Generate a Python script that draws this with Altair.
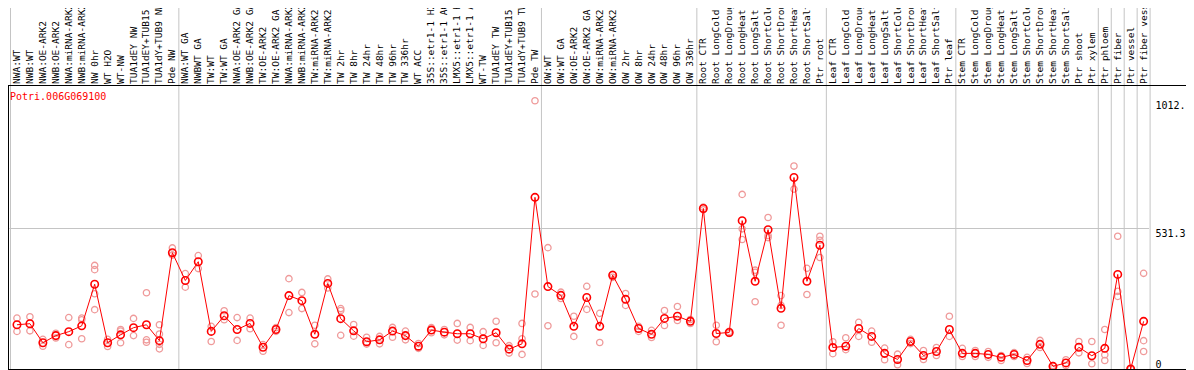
import altair as alt
import pandas as pd

gene_id = "Potri.006G069100"

categories = [
    "NWA:WT", "NWB:WT", "NWA:OE-ARK2", "NWB:OE-ARK2", "NWA:miRNA-ARK2", "NWB:miRNA-ARK2",
    "NW 0hr", "WT H2O", "WT-NW", "TUA1dEY NW", "TUA1dEY+TUB15 NW", "TUA1dY+TUB9 NW", "Pde NW",
    "NWA:WT GA", "NWBWT GA", "TW:WT", "TW:WT GA", "NWA:OE-ARK2 GA", "NWB:OE-ARK2 GA",
    "TW:OE-ARK2", "TW:OE-ARK2 GA", "NWA:miRNA-ARK2 GA", "NWB:miRNA-ARK2 GA", "TW:miRNA-ARK2",
    "TW:miRNA-ARK2 GA", "TW 2hr", "TW 8hr", "TW 24hr", "TW 48hr", "TW 96hr", "TW 336hr",
    "WT ACC", "35S::etr1-1 H2O", "35S::etr1-1 ACC", "LMX5::etr1-1 H2O", "LMX5::etr1-1 ACC",
    "WT-TW", "TUA1dEY TW", "TUA1dEY+TUB15 TW", "TUA1dY+TUB9 TW", "Pde TW",
    "OW:WT", "OW:WT GA", "OW:OE-ARK2", "OW:OE-ARK2 GA", "OW:miRNA-ARK2", "OW:miRNA-ARK2 GA",
    "OW 2hr", "OW 8hr", "OW 24hr", "OW 48hr", "OW 96hr", "OW 336hr",
    "Root CTR", "Root LongCold", "Root LongDrought", "Root LongHeat", "Root LongSalt",
    "Root ShortCold", "Root ShortDrought", "Root ShortHeat", "Root ShortSalt", "Ptr root",
    "Leaf CTR", "Leaf LongCold", "Leaf LongDrought", "Leaf LongHeat", "Leaf LongSalt",
    "Leaf ShortCold", "Leaf ShortDrought", "Leaf ShortHeat", "Leaf ShortSalt", "Ptr leaf",
    "Stem CTR", "Stem LongCold", "Stem LongDrought", "Stem LongHeat", "Stem LongSalt",
    "Stem ShortCold", "Stem ShortDrought", "Stem ShortHeat", "Stem ShortSalt", "Ptr shoot",
    "Ptr xylem", "Ptr phloem", "Ptr fiber", "Ptr vessel", "Ptr fiber vessel",
]

means = [
    167, 171, 99, 126, 141, 163, 320, 99, 129, 156, 167, 107, 439,
    334, 405, 142, 201, 149, 172, 82, 149, 277, 258, 131, 323, 190, 144, 103,
    110, 143, 126, 86, 147, 139, 133, 133, 114, 137, 75, 95, 648,
    311, 278, 161, 270, 161, 354, 263, 153, 131, 191, 199, 180,
    606, 134, 138, 560, 331, 526, 229, 723, 331, 467,
    81, 86, 153, 123, 59, 36, 104, 51, 66, 149,
    59, 59, 55, 44, 55, 32, 93, 10, 23, 82, 50,
    78, 357, 0, 180,
]

replicates = [
    [192, 142], [197, 144], [112, 86], [135, 117], [194, 92], [192, 186, 114],
    [391, 375, 284, 224], [112, 85], [149, 143, 99], [191, 126], [288, 110, 101],
    [167, 132, 93, 76], [457, 430],
    [360, 309], [428, 379], [161, 104], [220, 186], [194, 108], [192, 152], [92, 67],
    [156, 142], [341, 213], [289, 228], [165, 95], [340, 306], [228, 221, 127],
    [168, 124], [120, 94], [123, 95], [157, 120], [143, 110], [96, 78], [156, 137],
    [149, 129], [172, 109], [157, 107], [141, 89], [180, 99], [88, 60], [172, 114, 55],
    [1012.6, 283],
    [458, 163], [290, 266], [199, 123], [312, 225], [210, 100], [357, 346], [285, 240],
    [161, 142], [146, 119], [221, 164], [236, 183], [187, 172],
    [611, 601], [165, 103], [142, 134], [659, 529, 489], [373, 365, 254], [572, 504, 496],
    [277, 240, 165], [766, 679], [380, 281], [501, 486, 421],
    [103, 58], [118, 73], [176, 123], [143, 101], [79, 35], [56, 16], [112, 96], [70, 36],
    [81, 51], [199, 123],
    [78, 47], [70, 47], [66, 44], [51, 32], [62, 47], [44, 21], [108, 81], [13, 2],
    [35, 13], [104, 61], [104, 20],
    [149, 54, 32], [501, 293, 274], [0, 0], [361, 107, 66],
]

group_starts = ["NWA:WT", "NWA:WT GA", "OW:WT", "Root CTR", "Leaf CTR", "Stem CTR",
                "Ptr phloem", "Ptr fiber", "Ptr vessel", "Ptr fiber vessel"]
group_end = ["Ptr fiber vessel"]

y_tick_values = [0, 531.3, 1012.6]
y_tick_labels = ["0", "531.3", "1012."]
y_max = 1072

FONT = "DejaVu Sans Mono"
TOP = 77
STEP = 12.95
X0 = 2.5
BAND_END = X0 + STEP * len(categories)
W, H = 1143, 284
FULL_W = 1178

mean_df = pd.DataFrame({"cat": categories, "value": means, "idx": list(range(len(categories)))})
rep_df = pd.DataFrame(
    [{"cat": c, "value": v} for c, reps in zip(categories, replicates) for v in reps]
)
start_df = pd.DataFrame({"cat": group_starts})
end_df = pd.DataFrame({"cat": group_end})
one = pd.DataFrame({"a": [0]})

label_expr = " : ".join(
    f"datum.value == {v} ? '{t}'" for v, t in zip(y_tick_values[:-1], y_tick_labels[:-1])
) + f" : '{y_tick_labels[-1]}'"

x_scale = alt.Scale(domain=categories, range=[X0, BAND_END],
                    paddingInner=0, paddingOuter=0)
x_axis = alt.Axis(orient="top", title=None, labelAngle=270, labelAlign="left",
                  labelBaseline="middle", labelPadding=1.5, ticks=False, domain=False,
                  grid=False, labelOverlap=False, labelFont=FONT, labelFontSize=9.5,
                  labelColor="black")
y_scale = alt.Scale(domain=[0, y_max], nice=False, zero=True)
y_axis = alt.Axis(orient="right", title=None, values=y_tick_values, labelExpr=label_expr,
                  ticks=False, domain=False, grid=True, gridColor="#c4c4c4",
                  gridOpacity={"condition": {"test": "datum.value == 531.3", "value": 1}, "value": 0},
                  labelBaseline={"condition": {"test": "datum.value == 0", "value": "bottom"}, "value": "top"},
                  labelAlign="left", labelPadding=4, labelFont=FONT, labelFontSize=10,
                  labelColor="black")


def X(**kw):
    return alt.X("cat:N", scale=x_scale, axis=x_axis, sort=categories, **kw)


def Y():
    return alt.Y("value:Q", scale=y_scale, axis=y_axis)


grid_start = alt.Chart(start_df).mark_rule(color="#c4c4c4", strokeWidth=1).encode(
    x=X(bandPosition=0), y=alt.value(-TOP), y2=alt.value(H)
)
grid_end = alt.Chart(end_df).mark_rule(color="#c4c4c4", strokeWidth=1).encode(
    x=X(bandPosition=1), y=alt.value(-TOP), y2=alt.value(H)
)

reps = alt.Chart(rep_df).mark_point(shape="circle", filled=False, size=40,
                                    color="#ef9a9a", strokeWidth=1.3, opacity=1).encode(
    x=X(), y=Y()
)
line = alt.Chart(mean_df).mark_line(color="#ff0000", strokeWidth=1).encode(
    x=X(), y=Y(), order=alt.Order("idx:Q")
)
pts = alt.Chart(mean_df).mark_point(shape="circle", filled=False, size=55,
                                    color="#ff0000", strokeWidth=1.6, opacity=1).encode(
    x=X(), y=Y()
)

frame_top = alt.Chart(one).mark_rule(color="black", strokeWidth=1).encode(
    x=alt.value(0), x2=alt.value(FULL_W), y=alt.value(0.5)
)
frame_bottom = alt.Chart(one).mark_rule(color="black", strokeWidth=1).encode(
    x=alt.value(0), x2=alt.value(FULL_W), y=alt.value(H + 0.5)
)
frame_left = alt.Chart(one).mark_rule(color="black", strokeWidth=1).encode(
    x=alt.value(0.5), y=alt.value(0), y2=alt.value(H)
)

title = alt.Chart(one).mark_text(text=gene_id, color="#ff0000", font=FONT, fontSize=10,
                                 align="left", baseline="middle").encode(
    x=alt.value(2), y=alt.value(12)
)

chart = alt.layer(
    grid_start, grid_end, reps, line, pts, frame_top, frame_bottom, frame_left, title
).properties(
    width=W, height=H,
    padding={"left": 0, "top": TOP, "right": FULL_W - W, "bottom": 1},
    autosize=alt.AutoSizeParams(type="none"),
).configure_view(stroke=None)

chart.save("out.html", embed_options={"renderer": "svg", "actions": False})
